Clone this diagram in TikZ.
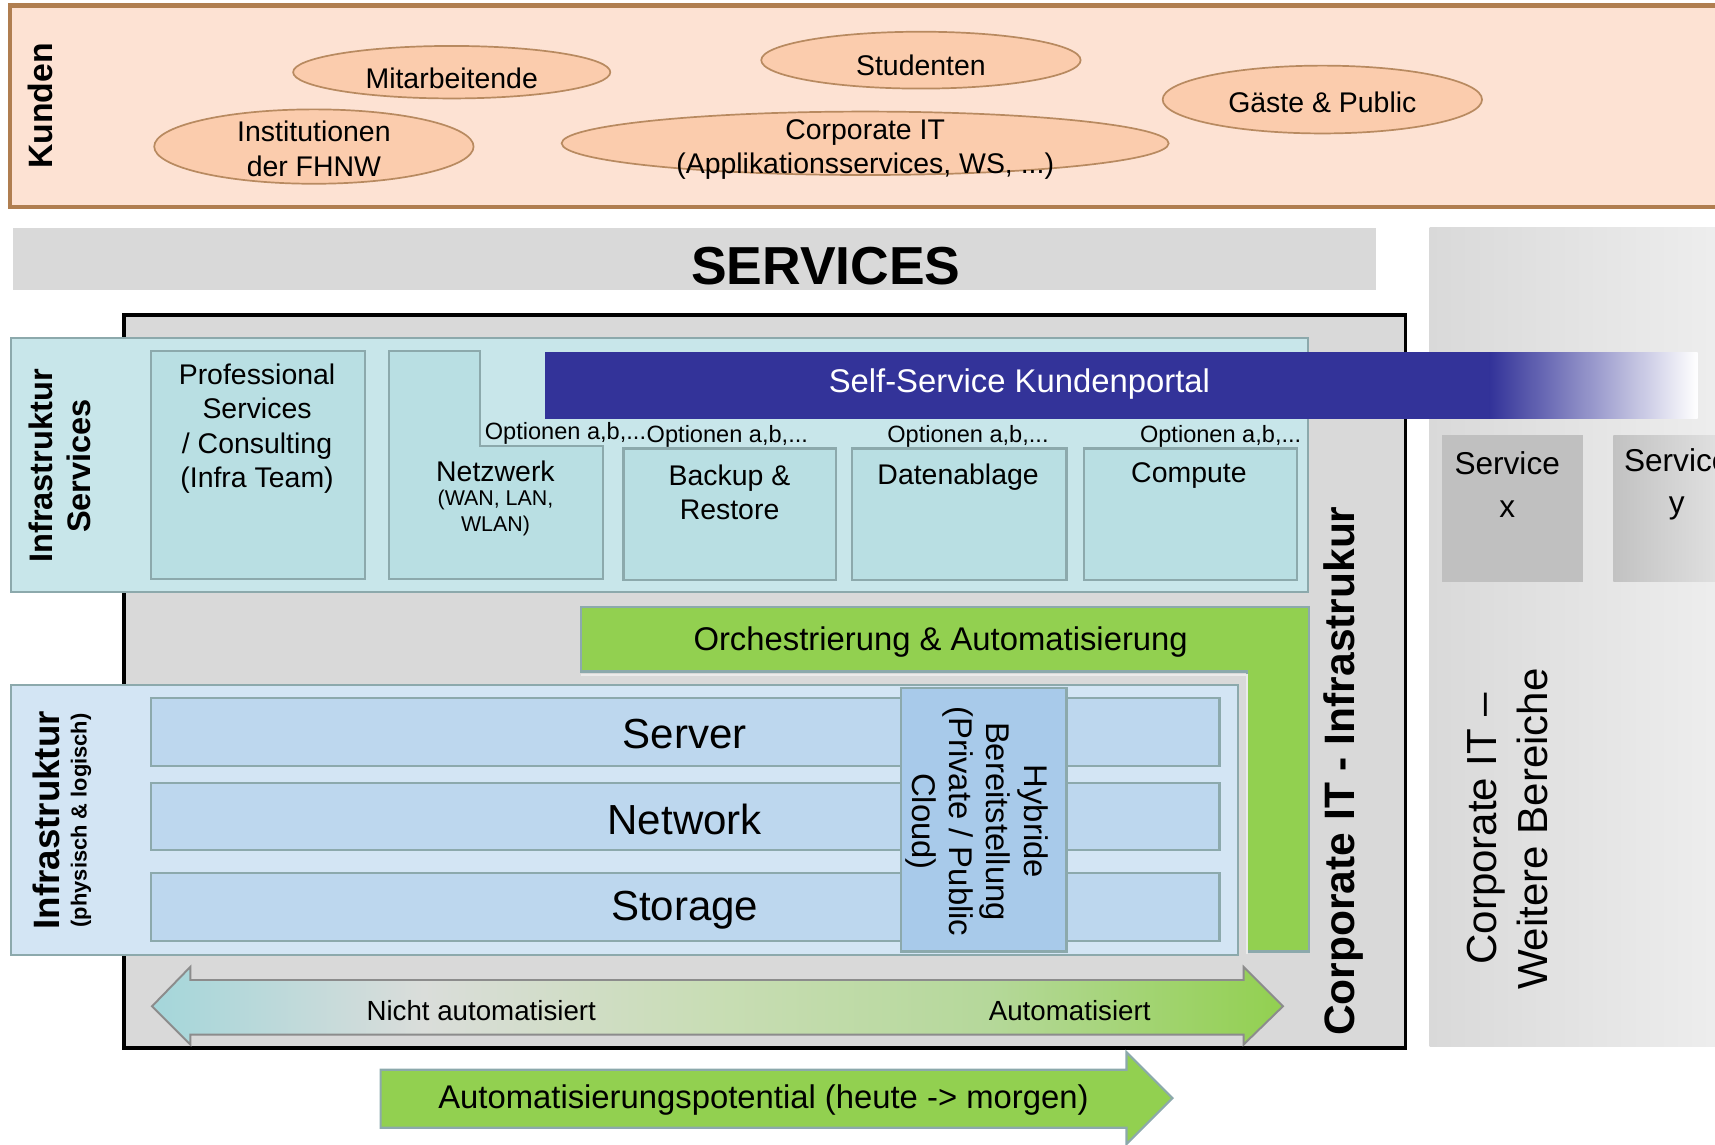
\documentclass[tikz,border=0pt]{standalone}
\usepackage{fontspec}
\setmainfont{Liberation Sans}
\usetikzlibrary{shapes.geometric}
\definecolor{kfill}{HTML}{FDE2D3}
\definecolor{kborder}{HTML}{B07E50}
\definecolor{efill}{HTML}{FBCCAD}
\definecolor{eborder}{HTML}{B88A60}
\definecolor{bggray}{HTML}{D9D9D9}
\definecolor{cyanpanel}{HTML}{C8E6EA}
\definecolor{cyanbox}{HTML}{B9DFE3}
\definecolor{tealline}{HTML}{8CA9AC}
\definecolor{portalblue}{HTML}{333399}
\definecolor{lgreen}{HTML}{92D050}
\definecolor{bluepanel}{HTML}{D3E5F4}
\definecolor{bluerow}{HTML}{BDD7EE}
\definecolor{hybridblue}{HTML}{A8CAEA}
\definecolor{lteal}{HTML}{A4D6DA}
\definecolor{svcgray}{HTML}{C0C0C0}
\definecolor{agA}{HTML}{DADDDA}
\definecolor{agB}{HTML}{C8DDB4}
\definecolor{agC}{HTML}{B5D89A}
\pgfdeclarehorizontalshading{autoshade}{100bp}{color(0bp)=(lteal); color(25bp)=(lteal);
  color(37bp)=(agA); color(50bp)=(agB); color(62bp)=(agC); color(75bp)=(lgreen); color(100bp)=(lgreen)}
\newcommand\myfs[2]{\fontsize{#1}{#2}\selectfont}
\begin{document}
\begin{tikzpicture}[x=0.45pt,y=-0.45pt,
  lbl/.style={inner sep=0pt, align=center},
  ell/.style 2 args={ellipse, draw=eborder, fill=efill, line width=0.7pt, inner sep=0pt,
    minimum width=#1*0.45pt, minimum height=#2*0.45pt},
  tbox/.style={draw=tealline, line width=0.9pt},
  ftxt/.style={font=\myfs{11.7}{14.1}},
  fopt/.style={font=\myfs{9.7}{11}},
  fmid/.style={font=\myfs{13.5}{15.3}},
  fbig/.style={font=\myfs{17.3}{20}}]
\useasboundingbox (0,0) rectangle (1568,1046);

% ---------- Kunden ----------
\path[fill=kfill, draw=kborder, line width=1.7pt] (9,5) rectangle (1590,189);
\node[lbl, rotate=90, font=\bfseries\myfs{13.9}{16}] (kunden) at (37,97) {Kunden};
\node[ell={290}{48}] (eMit) at (413,66) {};
\node[ell={292}{52}] (eStu) at (842,55) {};
\node[ell={292}{62}] (eGae) at (1209,91) {};
\node[ell={292}{68}] (eIns) at (287,134) {};
\node[ell={555}{58}] (eCor) at (791,131) {};
\node[lbl, ftxt] (tMit) at (413,72) {Mitarbeitende};
\node[lbl, ftxt] (tStu) at (842,60) {Studenten};
\node[lbl, ftxt] (tGae) at (1209,94) {Gäste \& Public};
\node[lbl, ftxt] (tIns) at (287,136) {Institutionen\\der FHNW};
\node[lbl, ftxt] (tCor) at (791,137) {Corporate IT\\(Applikationsservices, WS, ...)};

% ---------- SERVICES ----------
\path[fill=bggray] (12,208) rectangle (1258,265);
\node[lbl, font=\bfseries\myfs{22}{26}] (services) at (755,243) {SERVICES};

% ---------- right panel ----------
\shade[left color=bggray, right color=black!7] (1307,208) rectangle (1568,957);
\path[fill=svcgray] (1318,398) rectangle (1447,532);
\node[lbl, font=\myfs{13}{17.5}] (svcx) at (1378,443) {Service\\x};
\shade[left color=black!24, right color=black!11] (1475,398) rectangle (1580,532);
\node[lbl, font=\myfs{13}{17.5}] (svcy) at (1533,443) {Service\\y};
\node[lbl, rotate=90, font=\myfs{17.3}{21}] (weitere) at (1378,758) {Corporate IT –\\Weitere Bereiche};

% ---------- main box ----------
\path[fill=bggray, draw=black, line width=1.6pt] (113,288) rectangle (1285,958);
\node[lbl, rotate=90, font=\bfseries\myfs{17.5}{20}] (corpinfra) at (1228,705) {Corporate IT - Infrastrukur};

% ---------- Infrastruktur Services ----------
\path[fill=cyanpanel, tbox] (10,309) rectangle (1196,541);
\node[lbl, rotate=90, font=\bfseries\myfs{13.4}{15.75}] (infsrv) at (55,426) {Infrastruktur\\Services};
\path[fill=cyanbox, tbox] (138,321) rectangle (334,529);
\node[lbl, ftxt] (tProf) at (235,392) {Professional\\Services\\/ Consulting\\(Infra Team)};
\path[fill=cyanbox, tbox] (356,321) -- (439,321) -- (439,408) -- (551,408) -- (551,529) -- (356,529) -- cycle;
\node[lbl, ftxt] (tNetz) at (453,431) {Netzwerk};
\node[lbl, font=\myfs{8.8}{10.8}] (tWan) at (453,469) {(WAN, LAN,\\WLAN)};
\path[fill=cyanbox, tbox] (570,410) rectangle (764,530);
\path[fill=cyanbox, tbox] (779,410) rectangle (975,530);
\path[fill=cyanbox, tbox] (991,410) rectangle (1186,530);
\node[lbl, ftxt] (tBack) at (667,450) {Backup \&\\Restore};
\node[lbl, ftxt] (tDat) at (876,436) {Datenablage};
\node[lbl, ftxt] (tComp) at (1087,435) {Compute};
\node[lbl, fopt] (o1) at (517,396) {Optionen a,b,...};
\node[lbl, fopt] (o2) at (665,399) {Optionen a,b,...};
\node[lbl, fopt] (o3) at (885,399) {Optionen a,b,...};
\node[lbl, fopt] (o4) at (1116,399) {Optionen a,b,...};

% ---------- Portal bar ----------
\path[fill=portalblue] (498,322) rectangle (1363,383);
\shade[left color=portalblue, right color=white] (1362,322) rectangle (1552,383);
\node[lbl, text=white, fmid] (portal) at (932,351) {Self-Service Kundenportal};

% ---------- Orchestrierung ----------
\path[fill=lgreen, tbox] (531,555) -- (1197,555) -- (1197,870) -- (1140,870) -- (1140,614) -- (531,614) -- cycle;
\node[lbl, fmid] (orch) at (860,587) {Orchestrierung \& Automatisierung};
\path[draw=black!8, line width=0.9pt] (531,617) -- (1140,617) -- (1140,872);

% ---------- Infrastruktur physisch ----------
\path[fill=bluepanel, tbox] (10,626) rectangle (1132,873);
\node[lbl, rotate=90] (infphys) at (57,750) {{\bfseries\myfs{15.1}{15}Infrastruktur}\\[-1pt]{\bfseries\myfs{9}{10}(physisch \& logisch)}};
\path[fill=bluerow, tbox] (138,638) rectangle (1115,700);
\path[fill=bluerow, tbox] (138,716) rectangle (1115,777);
\path[fill=bluerow, tbox] (138,798) rectangle (1115,860);
\node[lbl, font=\myfs{17.3}{20}] (tServer) at (626,671) {Server};
\node[lbl, font=\myfs{17.3}{20}] (tNetwork) at (626,749) {Network};
\node[lbl, font=\myfs{17.3}{20}] (tStorage) at (626,832) {Storage};
\path[fill=hybridblue, tbox] (824,629) rectangle (975,870);
\node[lbl, rotate=-90, fmid] (hybrid) at (893,751) {Hybride\\Bereitstellung\\(Private / Public\\Cloud)};

% ---------- automation double arrow ----------
\shade[shading=autoshade]
  (139,920) -- (174,884) -- (174,896) -- (1137,896) -- (1137,884) -- (1173,920)
  -- (1137,955) -- (1137,946) -- (174,946) -- (174,955) -- cycle;
\path[draw=black!45, line width=0.8pt]
  (139,920) -- (174,884) -- (174,896) -- (1137,896) -- (1137,884) -- (1173,920)
  -- (1137,955) -- (1137,946) -- (174,946) -- (174,955) -- cycle;
\node[lbl, font=\myfs{11.4}{13}] (nicht) at (440,924) {Nicht automatisiert};
\node[lbl, font=\myfs{11.4}{13}] (auto) at (978,924) {Automatisiert};

% ---------- potential arrow ----------
\path[fill=lgreen, tbox] (348,978) -- (1030,978) -- (1030,962) -- (1072,1004)
  -- (1030,1046) -- (1030,1031) -- (348,1031) -- cycle;
\node[lbl, fmid] (potential) at (698,1006) {Automatisierungspotential (heute -> morgen)};
\end{tikzpicture}
\end{document}
